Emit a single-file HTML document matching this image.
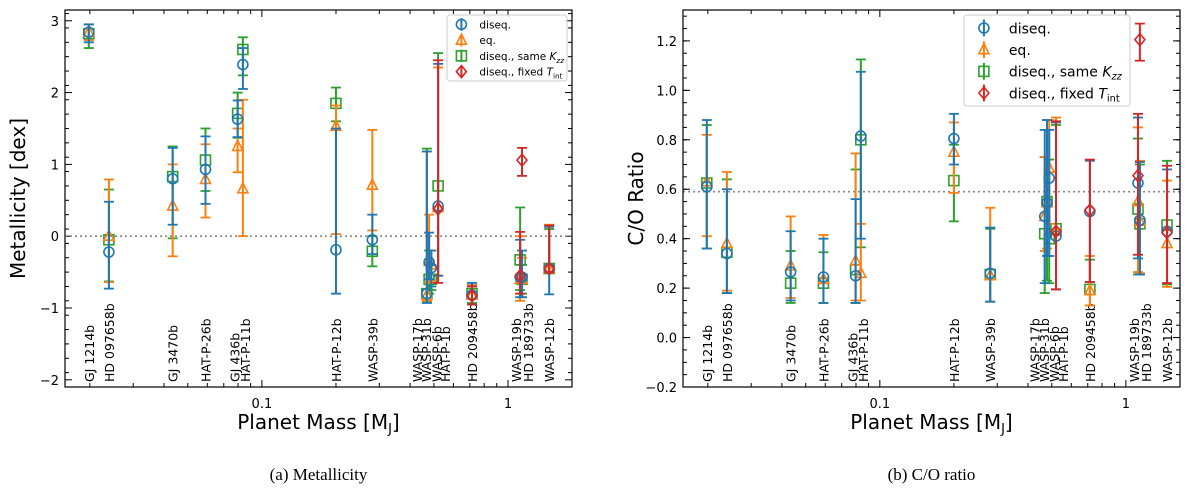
<!DOCTYPE html>
<html><head><meta charset="utf-8"><style>
body{margin:0;background:#fff;}
svg{display:block;font-family:"DejaVu Sans","Liberation Sans",sans-serif;}
</style></head><body>
<svg id="fig" width="1200" height="491" viewBox="0 0 1200 491"></svg>
<script>
const planets=["GJ 1214b","HD 097658b","GJ 3470b","HAT-P-26b","GJ 436b","HAT-P-11b","HAT-P-12b","WASP-39b","WASP-17b","WASP-31b","WASP-6b","HAT-P-1b","HD 209458b","WASP-19b","HD 189733b","WASP-12b"];
const masses=[0.0198,0.0239,0.0434,0.059,0.0797,0.0837,0.2,0.281,0.468,0.478,0.488,0.52,0.714,1.12,1.14,1.47];
// label spread offsets (layout only, px)
const labelShift=[0,0,0,0,-3,2,0,0,-10,-3,5,7,0,-4,6,0];
// Metallicity [value, low, high]
const metDiseq=[[2.84,2.70,2.95],[-0.22,-0.73,0.48],[0.80,0.16,1.23],[0.93,0.45,1.39],[1.63,1.38,1.89],[2.39,2.05,2.62],[-0.19,-0.80,1.50],[-0.05,-0.25,0.30],[-0.80,-0.93,1.18],[-0.36,-0.60,0.05],[-0.44,-0.70,-0.20],[0.42,-0.55,2.40],[-0.82,-0.95,-0.65],[-0.57,-0.85,-0.05],[-0.57,-0.85,-0.20],[-0.45,-0.81,0.13]];
const metEq=[[2.84,2.73,2.95],[0.00,-0.64,0.79],[0.42,-0.28,1.00],[0.79,0.26,1.28],[1.25,0.89,1.50],[0.66,0.00,1.90],[1.53,0.03,1.82],[0.71,0.08,1.48],[-0.82,-0.90,1.18],[-0.35,-0.65,0.30],[-0.40,-0.62,-0.20],[0.40,-0.55,2.35],[-0.82,-0.95,-0.68],[-0.60,-0.90,0.00],[-0.60,-0.85,-0.30],[-0.45,-0.50,0.16]];
const metKzz=[[2.82,2.62,2.95],[-0.05,-0.63,0.65],[0.83,-0.03,1.25],[1.06,0.63,1.50],[1.71,1.37,2.00],[2.60,2.24,2.77],[1.85,1.60,2.07],[-0.21,-0.42,0.00],[-0.80,-0.92,1.22],[-0.60,-0.80,-0.20],[-0.60,-0.75,-0.40],[0.70,-0.55,2.55],[-0.80,-0.93,-0.68],[-0.33,-0.75,0.40],[-0.60,-0.80,-0.40],[-0.45,-0.50,0.10]];
const metFix=[null,null,null,null,null,null,null,null,null,null,null,[0.38,-0.65,2.45],[-0.83,-0.95,-0.70],[-0.55,-0.80,0.06],[1.06,0.84,1.23],[-0.45,-0.50,0.15]];
// C/O ratio
const coDiseq=[[0.61,0.36,0.88],[0.34,0.18,0.60],[0.265,0.15,0.43],[0.245,0.14,0.40],[0.25,0.14,0.56],[0.815,0.40,1.075],[0.805,0.70,0.905],[0.26,0.145,0.445],[0.49,0.22,0.84],[0.545,0.33,0.88],[0.645,0.33,0.84],[0.41,0.195,0.87],[0.51,0.225,0.715],[0.625,0.32,0.89],[0.475,0.255,0.71],[0.43,0.22,0.68]];
const coEq=[[0.63,0.41,0.82],[0.38,0.19,0.67],[0.29,0.16,0.49],[0.235,0.14,0.415],[0.31,0.15,0.745],[0.26,0.15,0.46],[0.75,0.585,0.87],[0.25,0.145,0.525],[0.49,0.35,0.73],[0.545,0.36,0.88],[0.685,0.46,0.88],[0.43,0.195,0.89],[0.19,0.13,0.33],[0.55,0.265,0.85],[0.47,0.26,0.715],[0.38,0.205,0.635]];
const coKzz=[[0.625,0.36,0.86],[0.345,0.18,0.64],[0.22,0.14,0.35],[0.22,0.14,0.345],[0.275,0.14,0.68],[0.80,0.365,1.125],[0.635,0.47,0.78],[0.255,0.145,0.44],[0.42,0.18,0.73],[0.55,0.23,0.88],[0.40,0.22,0.72],[0.44,0.195,0.86],[0.195,0.13,0.315],[0.52,0.255,0.805],[0.46,0.255,0.70],[0.455,0.215,0.715]];
const coFix=[null,null,null,null,null,null,null,null,null,null,null,[0.43,0.195,0.875],[0.515,0.225,0.72],[0.655,0.335,0.905],[1.205,1.12,1.27],[0.425,0.22,0.695]];
const metTicks=[-2,-1,0,1,2,3];
const coTicks=[-0.2,0.0,0.2,0.4,0.6,0.8,1.0,1.2];

const NS="http://www.w3.org/2000/svg";
const svg=document.getElementById('fig');
function mk(tag,attrs,parent){const e=document.createElementNS(NS,tag);for(const k in attrs)e.setAttribute(k,attrs[k]);(parent||svg).appendChild(e);return e;}
const C={b:"#1f77b4",o:"#ff7f0e",g:"#2ca02c",r:"#d62728"};

function panel(o){
  const g=mk('g',{});
  
  
  const L=o.x0,R=o.x1,T=10,B=387;
  const lx0=-1.80,lx1=o.lxmax;
  const X=m=>L+(Math.log10(m)-lx0)/(lx1-lx0)*(R-L);
  const Y=v=>B-(v-o.ymin)/(o.ymax-o.ymin)*(B-T);
  for(let d=-2;d<=0;d++)for(let k=1;k<10;k++){const m=k*Math.pow(10,d);const lm=Math.log10(m);if(lm<lx0||lm>lx1)continue;const x=X(m);const len=k==1?7:4;
    mk('line',{x1:x,x2:x,y1:B,y2:B-len,stroke:'#000','stroke-width':1},g);mk('line',{x1:x,x2:x,y1:T,y2:T+len,stroke:'#000','stroke-width':1},g);
    if(k==1&&d>=-1){const t=mk('text',{x:x,y:B+21,'font-size':13,'text-anchor':'middle'},g);t.textContent=d==-1?'0.1':'1';}}
  for(let v=o.ymin;v<=o.ymax+1e-9;v+=o.minor){const y=Y(v);mk('line',{x1:L,x2:L+4,y1:y,y2:y,stroke:'#000'},g);mk('line',{x1:R,x2:R-4,y1:y,y2:y,stroke:'#000'},g);}
  o.ticks.forEach(v=>{const y=Y(v);mk('line',{x1:L,x2:L+7,y1:y,y2:y,stroke:'#000'},g);mk('line',{x1:R,x2:R-7,y1:y,y2:y,stroke:'#000'},g);
    const t=mk('text',{x:L-6,y:y+5,'font-size':13,'text-anchor':'end'},g);t.textContent=o.fmt(v).replace('-','\u2212');});
  mk('line',{x1:L,x2:R,y1:Y(o.ref),y2:Y(o.ref),stroke:'#888','stroke-width':1.6,'stroke-dasharray':'2,3'},g);
  planets.forEach((p,i)=>{const x=X(masses[i])+5+labelShift[i];const t=mk('text',{x:x,y:382,'font-size':12.5,transform:`rotate(-90 ${x} 382)`},g);t.textContent=p;});
  const ser=[[o.d[2],C.g,'sq'],[o.d[1],C.o,'tri'],[o.d[0],C.b,'circle'],[o.d[3],C.r,'dia']];
  ser.forEach(([arr,col,mkr])=>{arr.forEach((d,i)=>{if(!d)return;const x=X(masses[i]);const y=Y(d[0]),y1=Y(d[1]),y2=Y(d[2]);
    const sg=mk('g',{},g);
    mk('line',{x1:x,x2:x,y1:y1,y2:y2,stroke:col,'stroke-width':2},sg);
    mk('line',{x1:x-5,x2:x+5,y1:y1,y2:y1,stroke:col,'stroke-width':1.8},sg);
    mk('line',{x1:x-5,x2:x+5,y1:y2,y2:y2,stroke:col,'stroke-width':1.8},sg);
    drawMarker(sg,mkr,x,y,col);});});
  mk('rect',{x:L,y:T,width:R-L,height:B-T,fill:'none',stroke:'#000','stroke-width':1.2},g);
  const yt=mk('text',{x:o.ytx,y:(T+B)/2,'font-size':20,'text-anchor':'middle',transform:`rotate(-90 ${o.ytx} ${(T+B)/2})`},g);yt.textContent=o.ytitle;
  const xt=mk('text',{x:(L+R)/2,y:429,'font-size':20,'text-anchor':'middle'},g);xt.innerHTML='Planet Mass [M<tspan font-size="13" dy="4">J</tspan><tspan dy="-4">]</tspan>';
  const cp=mk('text',{x:(L+R)/2,y:480,'font-size':17,'text-anchor':'middle','font-family':'Liberation Serif, serif'},g);cp.textContent=o.caption;
  const lg=mk('g',{},g);
  const s=o.ls;
  mk('rect',{x:o.lx,y:o.ly,width:o.lw,height:o.lh,fill:'#fff','fill-opacity':0.85,stroke:'#ccc',rx:3},lg);
  const labels=['diseq.','eq.','diseq., same <tspan font-style="italic">K</tspan><tspan font-size="'+(s*0.7)+'" dy="3" font-style="italic">zz</tspan>','diseq., fixed <tspan font-style="italic">T</tspan><tspan font-size="'+(s*0.7)+'" dy="3">int</tspan>'];
  [C.b,C.o,C.g,C.r].forEach((col,k)=>{const yy=o.ly+o.lh*(k+0.6)/4.2;const xx=o.lx+o.lw*0.12;
    const e=mk('g',{},lg);
    mk('line',{x1:xx,x2:xx,y1:yy-s*0.6,y2:yy+s*0.6,stroke:col,'stroke-width':2},e);
    drawMarker(e,['circle','tri','sq','dia'][k],xx,yy,col);
    const t=mk('text',{x:o.lx+o.lw*0.27,y:yy+s*0.38,'font-size':s},e);t.innerHTML=labels[k];});
  svg.appendChild(g);
}
function drawMarker(p,m,x,y,col){const r=5;const a={fill:'none',stroke:col,'stroke-width':1.6};
  if(m=='circle')mk('circle',Object.assign({cx:x,cy:y,r:r},a),p);
  else if(m=='tri')mk('polygon',Object.assign({points:`${x},${y-r-1} ${x-r},${y+r-1} ${x+r},${y+r-1}`},a),p);
  else if(m=='sq')mk('rect',Object.assign({x:x-r,y:y-r,width:2*r,height:2*r},a),p);
  else mk('polygon',Object.assign({points:`${x},${y-r-1} ${x+r},${y} ${x},${y+r+1} ${x-r},${y}`},a),p);}

panel({name:'metallicity-panel',x0:65,x1:572,lxmax:0.26,ymin:-2.1,ymax:3.15,minor:0.2,ticks:metTicks,fmt:v=>String(v),ref:0,
  d:[metDiseq,metEq,metKzz,metFix],ytitle:'Metallicity [dex]',ytx:25,caption:'(a) Metallicity',lx:447,ly:15,lw:120,lh:66,ls:10.5});
panel({name:'co-ratio-panel',x0:683,x1:1180,lxmax:0.22,ymin:-0.2,ymax:1.325,minor:0.05,ticks:coTicks,fmt:v=>v.toFixed(1),ref:0.59,
  d:[coDiseq,coEq,coKzz,coFix],ytitle:'C/O Ratio',ytx:643,caption:'(b) C/O ratio',lx:964,ly:15,lw:166,lh:91,ls:14});
</script>
</body></html>
